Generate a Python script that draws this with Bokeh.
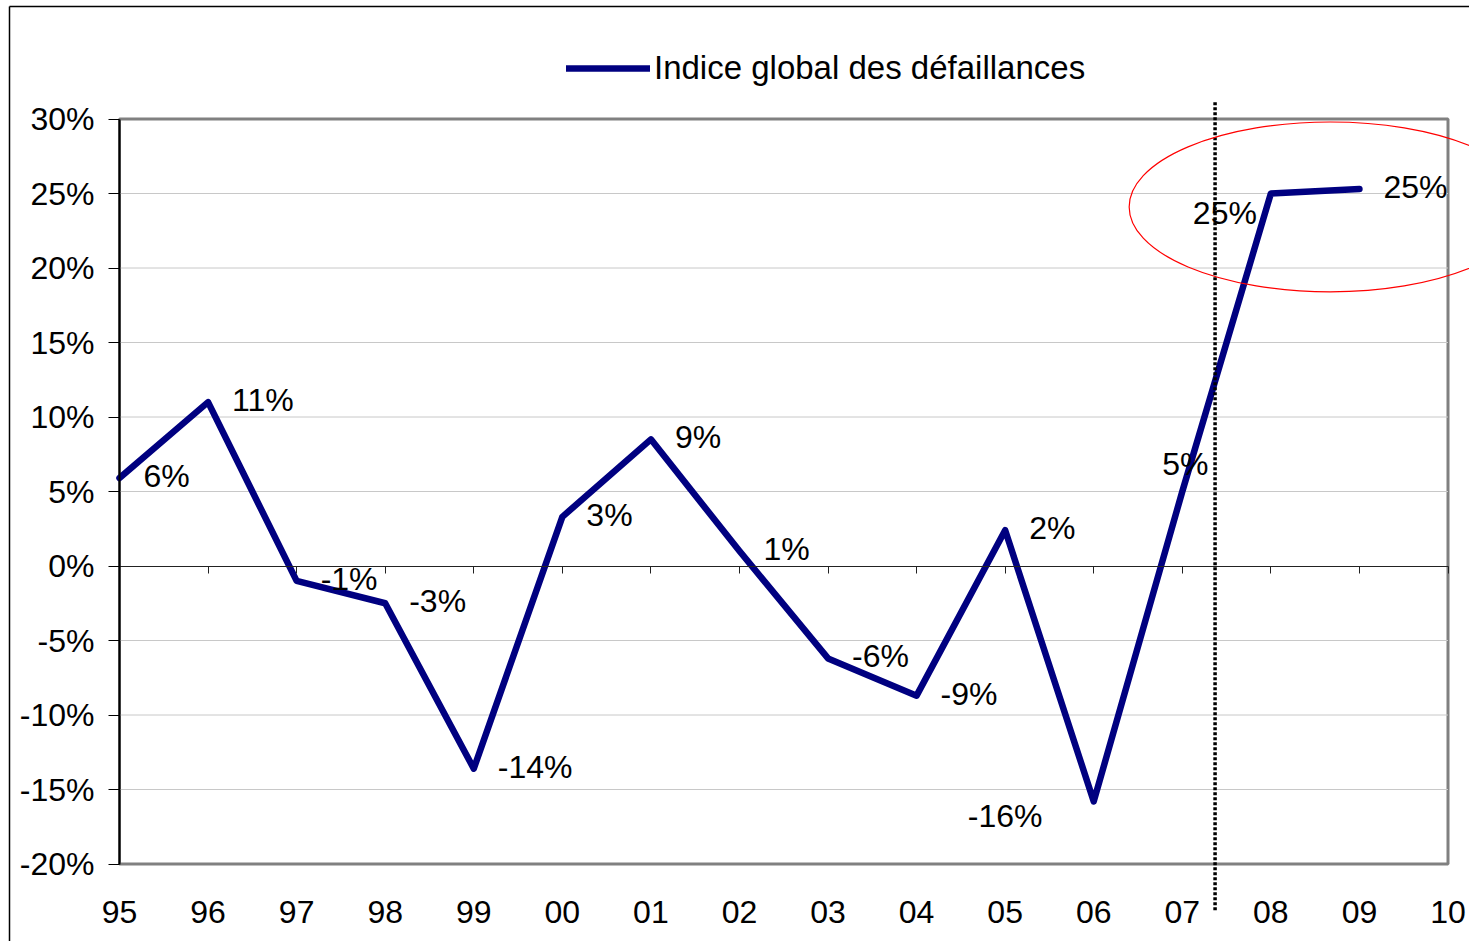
import numpy as np
from bokeh.plotting import figure
from bokeh.models import (ColumnDataSource, LinearAxis, FixedTicker, NumeralTickFormatter,
                          BoxAnnotation, Legend, LegendItem, Range1d)
from bokeh.core.properties import value
from bokeh.embed import file_html
from bokeh.resources import INLINE

# ---------------- data ----------------
YEARS = ["95", "96", "97", "98", "99", "00", "01", "02", "03", "04",
         "05", "06", "07", "08", "09", "10"]
VALUES_PCT = [5.9, 11.0, -1.0, -2.5, -13.6, 3.3, 8.5, 1.0, -6.2, -8.7,
              2.4, -15.8, 5.0, 25.0, 25.3]
Y_TICKS_PCT = [-20, -15, -10, -5, 0, 5, 10, 15, 20, 25, 30]
SERIES_NAME = "Indice global des défaillances"
FORECAST_SPLIT = 12.37             # category position of the dotted separator
FORECAST_SPAN_PCT = (-23.1, 31.2)  # vertical extent of the separator
HIGHLIGHT_CENTER = (13.67, 24.1)   # red ellipse (category position, %)
HIGHLIGHT_SIZE = (4.54, 11.4)      # (categories, % points)

# ---------------- layout (picture pixels) ----------------
W, H = 1469, 941
PLOT_L, PLOT_R = 119.0, 1447.5   # x of first / last category
PLOT_T, PLOT_B = 118.5, 863.5    # y of top / bottom of value axis
FRAME_L, FRAME_T = 9.0, 6.0      # outer chart frame edges
FONT = "Liberation Sans"

n_cat = len(YEARS) - 1
y_top, y_bot = Y_TICKS_PCT[-1] / 100, Y_TICKS_PCT[0] / 100
sx = (PLOT_R - PLOT_L) / n_cat
sy = (PLOT_B - PLOT_T) / (y_top - y_bot)
x_start = 0 - PLOT_L / sx
x_end = n_cat + (W - PLOT_R) / sx
y_end = y_top + PLOT_T / sy
y_start = y_bot - (H - PLOT_B) / sy

p = figure(width=W, height=H, output_backend="svg", toolbar_location=None,
           x_axis_type=None, y_axis_type=None,
           x_range=Range1d(x_start, x_end), y_range=Range1d(y_start, y_end),
           min_border=0)
p.outline_line_color = None
p.background_fill_color = "white"
p.border_fill_color = "white"

# plot area box
p.add_layout(BoxAnnotation(left=0, right=n_cat, bottom=y_bot, top=y_top,
                           fill_color=None, fill_alpha=0,
                           line_color="#808080", line_alpha=1.0, line_width=3,
                           level="underlay"))

# gridlines
grid_y = [t / 100 for t in Y_TICKS_PCT if t not in (0, Y_TICKS_PCT[0], Y_TICKS_PCT[-1])]
p.segment(x0=[0] * len(grid_y), x1=[n_cat] * len(grid_y), y0=grid_y, y1=grid_y,
          line_color="#c8c8c8", line_width=1)

# y axis
yax = LinearAxis(fixed_location=0, bounds=(y_bot, y_top),
                 ticker=FixedTicker(ticks=[t / 100 for t in Y_TICKS_PCT]),
                 formatter=NumeralTickFormatter(format="0%"))
yax.axis_line_color = "#000000"
yax.axis_line_width = 2
yax.major_tick_line_color = "#000000"
yax.major_tick_out = 11
yax.major_tick_in = 0
yax.minor_tick_line_color = None
yax.major_label_standoff = 14
yax.major_label_text_font = FONT
yax.major_label_text_font_size = "32px"
yax.major_label_text_color = "#000000"
p.add_layout(yax, "left")

# zero line with category ticks
zax = LinearAxis(fixed_location=0, bounds=(0, n_cat),
                 ticker=FixedTicker(ticks=list(range(len(YEARS)))))
zax.axis_line_color = "#222222"
zax.axis_line_width = 1.2
zax.major_tick_line_color = "#222222"
zax.major_tick_out = 7
zax.major_tick_in = 0
zax.minor_tick_line_color = None
zax.major_label_text_color = None
p.add_layout(zax, "below")

# category labels at the bottom
xax = LinearAxis(fixed_location=y_bot,
                 ticker=FixedTicker(ticks=list(range(len(YEARS)))),
                 major_label_overrides={i: y for i, y in enumerate(YEARS)})
xax.axis_line_color = None
xax.major_tick_line_color = None
xax.minor_tick_line_color = None
xax.major_tick_out = 0
xax.major_tick_in = 0
xax.major_label_standoff = 37
xax.major_label_text_font = FONT
xax.major_label_text_font_size = "32px"
xax.major_label_text_color = "#000000"
p.add_layout(xax, "below")

# series
idx = list(range(len(VALUES_PCT)))
vals = [v / 100 for v in VALUES_PCT]


def pct_label(v):
    r = int(np.floor(abs(v) + 0.5))
    return f"{'-' if v < 0 and r else ''}{r}%"


labels = [pct_label(v) for v in VALUES_PCT]
# label nudges (pixels): default right of the point
LABEL_DX = [24] * len(VALUES_PCT)
LABEL_DY = [-2] * len(VALUES_PCT)
LABEL_DX[11], LABEL_DY[11] = -126, 15
LABEL_DX[12], LABEL_DY[12] = -20, -28
LABEL_DX[13], LABEL_DY[13] = -78, 19

src = ColumnDataSource(dict(x=idx, y=vals, label=labels, dx=LABEL_DX, dy=LABEL_DY))
line_r = p.line("x", "y", source=src, line_color="#000080", line_width=6.5,
                line_cap="round", line_join="round")
p.text("x", "y", text="label", source=src, x_offset="dx", y_offset="dy",
       text_font=value(FONT), text_font_size="32px", text_color="#000000",
       text_align="left", text_baseline="middle")

# forecast separator
p.segment(x0=[FORECAST_SPLIT], x1=[FORECAST_SPLIT],
          y0=[FORECAST_SPAN_PCT[0] / 100], y1=[FORECAST_SPAN_PCT[1] / 100],
          line_color="#000000", line_width=3.5, line_dash="3 2")

# highlight ellipse
p.ellipse(x=[HIGHLIGHT_CENTER[0]], y=[HIGHLIGHT_CENTER[1] / 100],
          width=[HIGHLIGHT_SIZE[0]], height=[HIGHLIGHT_SIZE[1] / 100],
          fill_color=None, line_color="#ff0000", line_width=1.2)

# outer frame (left & top edges)
fx = x_start + FRAME_L / sx
fy = y_end - FRAME_T / sy
p.segment(x0=[fx, fx], x1=[fx, x_end], y0=[y_start, fy], y1=[fy, fy],
          line_color="#000000", line_width=1.5)

legend = Legend(items=[LegendItem(label=SERIES_NAME, renderers=[line_r])],
                location=(566, H - 87.3),
                border_line_color=None, background_fill_alpha=0,
                padding=0, margin=0, spacing=0,
                glyph_width=84, glyph_height=34, label_height=34,
                label_standoff=4, label_text_font=FONT,
                label_text_font_size="33px", label_text_color="#000000")
p.add_layout(legend)

open("out.html", "w").write(file_html(p, INLINE))
